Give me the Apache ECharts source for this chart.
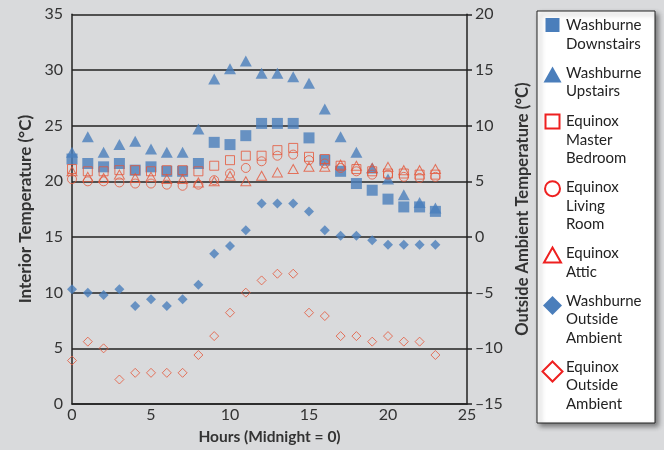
<!DOCTYPE html>
<html><head><meta charset="utf-8">
<script src="https://cdn.jsdelivr.net/npm/echarts@6/dist/echarts.min.js"></script>
<style>html,body{margin:0;padding:0;background:#d9dadc}#c{width:664px;height:450px}</style>
</head><body><div id="c"></div>
<script>
const hours = [0,1,2,3,4,5,6,7,8,9,10,11,12,13,14,15,16,17,18,19,20,21,22,23];
const washDown = [22.0,21.6,21.3,21.6,21.0,21.3,20.9,20.9,21.6,23.5,23.3,24.1,25.2,25.2,25.2,23.9,21.9,20.9,19.8,19.2,18.4,17.7,17.7,17.3];
const washUp = [22.6,24.0,22.6,23.3,23.6,22.9,22.6,22.6,24.7,29.2,30.1,30.8,29.7,29.7,29.4,28.8,26.5,24.0,22.6,21.2,20.2,18.8,18.1,17.6];
const eqMaster = [21.1,20.9,20.9,21.0,21.0,20.9,21.0,21.0,20.9,21.4,21.9,22.3,22.3,22.8,23.0,22.2,22.0,21.4,21.1,20.9,20.7,20.7,20.6,20.6];
const eqLiving = [20.2,20.0,20.0,19.9,19.8,19.8,19.7,19.6,19.7,20.1,20.7,21.2,21.8,22.3,22.4,21.9,21.6,21.2,20.9,20.6,20.6,20.4,20.3,20.4];
const eqAttic = [20.9,20.4,20.3,20.6,20.3,20.4,20.2,20.2,19.9,20.0,20.5,20.0,20.5,20.8,21.1,21.3,21.3,21.5,21.4,21.2,21.3,21.0,21.0,21.1];
const washOut = [-4.7,-5.0,-5.2,-4.7,-6.2,-5.6,-6.2,-5.6,-4.3,-1.5,-0.8,0.6,3.0,3.0,3.0,2.3,0.6,0.1,0.1,-0.3,-0.7,-0.7,-0.7,-0.7];
const eqOut = [-11.1,-9.4,-10.0,-12.8,-12.2,-12.2,-12.2,-12.2,-10.6,-8.9,-6.8,-5.0,-3.9,-3.3,-3.3,-6.8,-7.1,-8.9,-8.9,-9.4,-8.9,-9.4,-9.4,-10.6];
const names = ['Washburne Downstairs','Washburne Upstairs','Equinox Master Bedroom','Equinox Living Room','Equinox Attic','Washburne Outside Ambient','Equinox Outside Ambient'];
const legendLines = [['Washburne','Downstairs'],['Washburne','Upstairs'],['Equinox','Master','Bedroom'],['Equinox','Living','Room'],['Equinox','Attic'],['Washburne','Outside','Ambient'],['Equinox','Outside','Ambient']];

const FONT = 'Lato';
const BLUE = '#4a7ebb';
const RED = '#e5563a';
const LRED = '#ee2020';
const pair = a => hours.map((h,i)=>[h,a[i]]);

const legendY = [25, 72.7, 121, 187.3, 253.3, 300.7, 366.7];
const graphics = [{
  type:'rect', shape:{x:537,y:11,width:118,height:412},
  style:{fill:'#fff', stroke:'#222', lineWidth:1, shadowBlur:5, shadowColor:'rgba(0,0,0,0.45)', shadowOffsetX:3, shadowOffsetY:3}
}];
const cx = 552.5;
function icon(i, cy){
  switch(i){
    case 0: return {type:'rect', shape:{x:cx-7,y:cy-7,width:14,height:14}, style:{fill:BLUE}};
    case 1: return {type:'polygon', shape:{points:[[cx,cy-8],[cx+9,cy+8],[cx-9,cy+8]]}, style:{fill:BLUE}};
    case 2: return {type:'rect', shape:{x:cx-7,y:cy-7,width:14,height:14}, style:{fill:'#fff',stroke:LRED,lineWidth:2}};
    case 3: return {type:'circle', shape:{cx:cx,cy:cy,r:7.5}, style:{fill:'#fff',stroke:LRED,lineWidth:2}};
    case 4: return {type:'polygon', shape:{points:[[cx,cy-7.5],[cx+8.5,cy+7.5],[cx-8.5,cy+7.5]]}, style:{fill:'#fff',stroke:LRED,lineWidth:2}};
    case 5: return {type:'polygon', shape:{points:[[cx,cy-9.5],[cx+9.5,cy],[cx,cy+9.5],[cx-9.5,cy]]}, style:{fill:BLUE}};
    case 6: return {type:'polygon', shape:{points:[[cx,cy-10],[cx+10,cy],[cx,cy+10],[cx-10,cy]]}, style:{fill:'#fff',stroke:LRED,lineWidth:2}};
  }
}
const iconY = [25, 74.5, 121.5, 188.7, 255, 305.5, 371.5];
legendLines.forEach((lines,i)=>{
  graphics.push(icon(i, iconY[i]));
  graphics.push({type:'text', x:566, y:legendY[i]-9,
    style:{text:lines.join('\n'), font:'15px '+FONT, fill:'#222', lineHeight:18.5, textVerticalAlign:'top'}});
});

const chart = echarts.init(document.getElementById('c'));
chart.setOption({
  backgroundColor:'#d9dadc',
  animation:false,
  textStyle:{fontFamily:FONT},
  grid:{left:72, right:197, top:14.3, bottom:45.7},
  xAxis:{type:'value', min:0, max:25, interval:5,
    name:'Hours (Midnight = 0)', nameLocation:'middle', nameGap:25,
    nameTextStyle:{fontFamily:FONT, fontWeight:'bold', fontSize:15.5, color:'#333'},
    axisLine:{lineStyle:{color:'#222', width:1.5}}, axisTick:{show:false},
    axisLabel:{fontSize:16, color:'#333', margin:3}, splitLine:{show:false}},
  yAxis:[{type:'value', min:0, max:35, interval:5,
    name:'Interior Temperature (°C)', nameLocation:'middle', nameGap:36,
    nameTextStyle:{fontFamily:FONT, fontWeight:'bold', fontSize:17, color:'#333'},
    axisLine:{show:true, lineStyle:{color:'#222', width:1.5}}, axisTick:{show:false},
    axisLabel:{fontSize:16, color:'#333', margin:9},
    splitLine:{show:true, lineStyle:{color:'#222', width:1.5}}},
   {type:'value', min:-15, max:20, interval:5, position:'right',
    name:'Outside Ambient Temperature (°C)', nameLocation:'middle', nameGap:43, nameRotate:90,
    nameTextStyle:{fontFamily:FONT, fontWeight:'bold', fontSize:16.5, color:'#333'},
    axisLine:{show:true, lineStyle:{color:'#222', width:1.5}},
    axisTick:{show:true, length:5, lineStyle:{color:'#222', width:1.5}},
    axisLabel:{fontSize:16, color:'#333', margin:8, formatter:v=> v<0 ? '\u2013'+Math.abs(v) : String(v)},
    splitLine:{show:false}}],
  graphic:graphics,
  series:[
    {name:names[0], type:'scatter', yAxisIndex:0, data:pair(washDown), symbol:'rect', symbolSize:11, itemStyle:{color:BLUE}},
    {name:names[1], type:'scatter', yAxisIndex:0, data:pair(washUp), symbol:'triangle', symbolSize:[12,11], itemStyle:{color:BLUE}},
    {name:names[5], type:'scatter', yAxisIndex:1, data:pair(washOut), symbol:'diamond', symbolSize:[10,10], itemStyle:{color:BLUE}},
    {name:names[2], type:'scatter', yAxisIndex:0, data:pair(eqMaster), symbol:'rect', symbolSize:9, itemStyle:{color:'rgba(0,0,0,0)', borderColor:RED, borderWidth:1}},
    {name:names[3], type:'scatter', yAxisIndex:0, data:pair(eqLiving), symbol:'circle', symbolSize:9, itemStyle:{color:'rgba(0,0,0,0)', borderColor:RED, borderWidth:1}},
    {name:names[4], type:'scatter', yAxisIndex:0, data:pair(eqAttic), symbol:'triangle', symbolSize:[10,9], itemStyle:{color:'rgba(0,0,0,0)', borderColor:RED, borderWidth:1}},
    {name:names[6], type:'scatter', yAxisIndex:1, data:pair(eqOut), symbol:'diamond', symbolSize:[9,9], itemStyle:{color:'rgba(0,0,0,0)', borderColor:RED, borderWidth:1}}
  ]
});
</script></body></html>
